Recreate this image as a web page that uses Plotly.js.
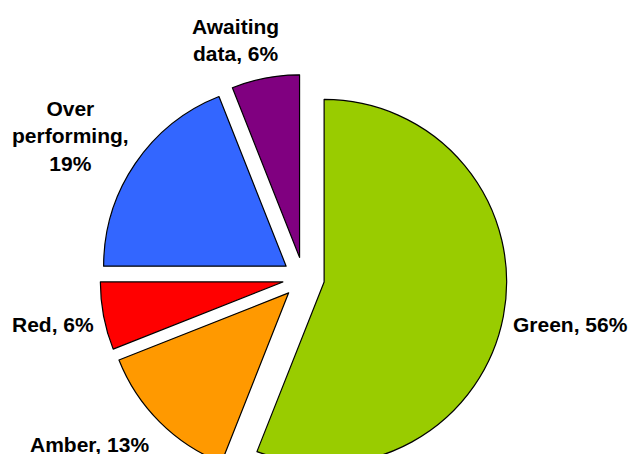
<!DOCTYPE html>
<html>
<head>
<meta charset="utf-8">
<script src="https://cdn.plot.ly/plotly-3.0.1.min.js"></script>
<style>
  html, body { margin: 0; padding: 0; overflow: hidden; background: #fff; }
  #chart { width: 632px; height: 560px; }
</style>
</head>
<body>
<div id="chart"></div>
<script>
const categories = ["Green", "Amber", "Red", "Over performing", "Awaiting data"];
const values = [56, 13, 6, 19, 6];
const colors = ["#99CC00", "#FF9900", "#FF0000", "#3366FF", "#800080"];
const labelSeparators = [", ", ", ", ", ", ",<br>", ", "];
// label centres in page pixels
const labelCentres = [[571, 324], [89, 444], [52, 324], [70, 136], [235, 40]];

const W = 632, H = 560;
const M = { l: 99.5, r: 124.5, t: 74, b: 78 };
const boxW = W - M.l - M.r, boxH = H - M.t - M.b;
const total = values.reduce((a, b) => a + b, 0);
const font = { family: "Liberation Sans, Arial, sans-serif", size: 21, color: "#000000", weight: "bold" };

const trace = {
  type: "pie",
  labels: categories,
  values: values,
  sort: false,
  direction: "clockwise",
  rotation: 0,
  pull: values.map(() => 0.115),
  marker: { colors: colors, line: { color: "#000000", width: 1.2 } },
  textinfo: "none",
  hoverinfo: "none",
  showlegend: false,
  domain: { x: [0, 1], y: [0, 1] }
};

const annotations = categories.map((c, i) => ({
  xref: "paper", yref: "paper",
  x: (labelCentres[i][0] - M.l) / boxW,
  y: 1 - (labelCentres[i][1] - M.t) / boxH,
  xanchor: "center", yanchor: "middle",
  text: c.replace(" ", "<br>") + labelSeparators[i] + Math.round(values[i] / total * 100) + "%",
  showarrow: false,
  align: "center",
  font: font
}));

const layout = {
  width: W,
  height: H,
  margin: { l: M.l, r: M.r, t: M.t, b: M.b, pad: 0 },
  paper_bgcolor: "#ffffff",
  plot_bgcolor: "#ffffff",
  showlegend: false,
  annotations: annotations
};

Plotly.newPlot("chart", [trace], layout, { displayModeBar: false, staticPlot: true });
</script>
</body>
</html>
